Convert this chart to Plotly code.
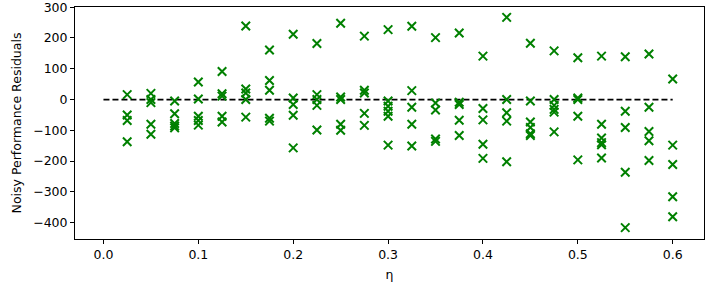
import plotly.graph_objects as go

eta = [0.025, 0.05, 0.075, 0.1, 0.125, 0.15, 0.175, 0.2, 0.225, 0.25, 0.275, 0.3,
       0.325, 0.35, 0.375, 0.4, 0.425, 0.45, 0.475, 0.5, 0.525, 0.55, 0.575, 0.6]
residuals = [
    [16, -50, -68, -137],
    [20, 0, -10, -80, -113],
    [-5, -46, -78, -86, -92],
    [57, 2, -54, -68, -83],
    [91, 19, 11, -54, -73],
    [239, 34, 21, 0, -57],
    [161, 62, 30, -61, -70],
    [212, 5, -16, -51, -157],
    [182, 16, 0, -19, -99],
    [248, 8, 0, -80, -100],
    [206, 30, 21, -45, -84],
    [227, -5, -22, -38, -54, -148],
    [238, 29, -25, -80, -151],
    [201, -11, -34, -128, -136],
    [216, -9, -16, -67, -117],
    [141, -29, -66, -145, -191],
    [267, 0, -43, -70, -202],
    [183, -5, -73, -91, -111, -117],
    [158, 0, -19, -32, -41, -105],
    [136, 5, 0, -54, -196],
    [141, -80, -125, -140, -147, -190],
    [139, -38, -91, -236, -416],
    [148, -25, -104, -134, -198],
    [67, -148, -211, -316, -381],
]
ref_x = [0.0, 0.6]
ref_y = [0, 0]
x_ticks = [0.0, 0.1, 0.2, 0.3, 0.4, 0.5, 0.6]
x_ticktext = ["0.0", "0.1", "0.2", "0.3", "0.4", "0.5", "0.6"]
y_ticks = [300, 200, 100, 0, -100, -200, -300, -400]
y_ticktext = ["300", "200", "100", "0", "\u2212100", "\u2212200", "\u2212300", "\u2212400"]

xs, ys = [], []
for e, vals in zip(eta, residuals):
    for v in vals:
        xs.append(e)
        ys.append(v)

FONT = dict(family="DejaVu Sans", size=12.5, color="black")

fig = go.Figure()
fig.add_trace(go.Scatter(x=ref_x, y=ref_y, mode="lines",
                         line=dict(color="black", width=1.8, dash="6px,3px"),
                         showlegend=False, hoverinfo="skip"))
fig.add_trace(go.Scatter(x=xs, y=ys, mode="markers",
                         marker=dict(symbol="x-thin", size=8.5,
                                     line=dict(color="#008000", width=2),
                                     color="#008000"),
                         showlegend=False, cliponaxis=False))

axis_common = dict(showline=True, linecolor="black", linewidth=1, mirror=True,
                   ticks="outside", ticklen=4, tickcolor="black", showgrid=False,
                   zeroline=False, tickfont=FONT, automargin=False,
                   ticklabeloverflow="allow")
fig.update_xaxes(range=[-0.03, 0.633], tickvals=x_ticks, ticktext=x_ticktext,
                 title=dict(text="\u03b7", font=FONT, standoff=10),
                 **axis_common)
fig.update_yaxes(range=[-453, 300.6], tickvals=y_ticks, ticktext=y_ticktext,
                 title=dict(text="Noisy Performance Residuals", font=FONT, standoff=8),
                 **axis_common)
fig.update_layout(width=719, height=282, margin=dict(l=75, r=15, t=7, b=43),
                  plot_bgcolor="white", paper_bgcolor="white")
fig.write_html("out.html", config={"displayModeBar": False},
               post_script="document.body.style.margin='0';document.body.style.overflow='hidden';")
